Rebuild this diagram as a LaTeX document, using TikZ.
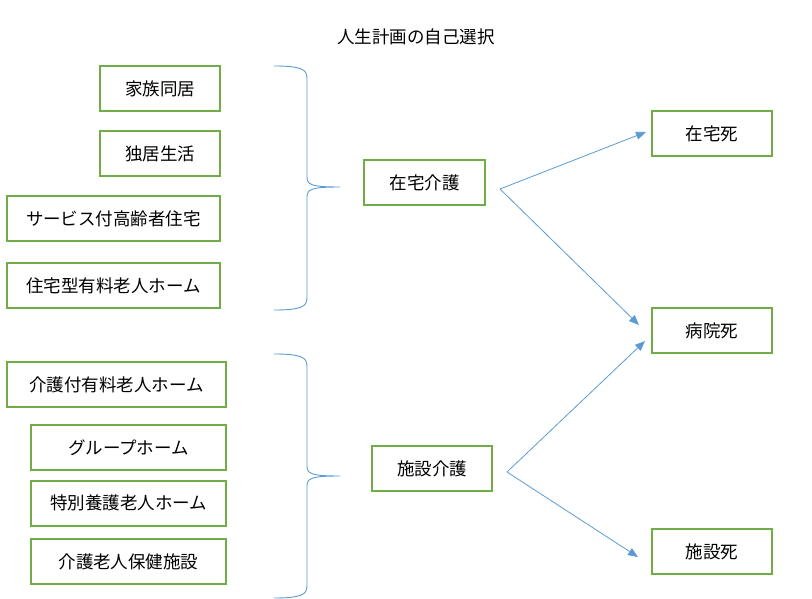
\documentclass[tikz,border=0pt]{standalone}
\usepackage{fontspec}
\newfontfamily\jpfont{Noto Sans CJK JP}
\usetikzlibrary{arrows.meta}
\definecolor{boxgreen}{HTML}{70AD47}
\definecolor{lineblue}{HTML}{5B9BD5}
\tikzset{
    stage/.style={draw=boxgreen, line width=2pt, minimum height=45pt, inner sep=0pt},
    flow/.style={draw=lineblue, line width=0.8pt, -{Triangle[length=10pt,width=8pt]}},
    brace/.style={draw=lineblue, line width=0.9pt}
}
\begin{document}
\begin{tikzpicture}[x=1pt, y=-1pt, font=\jpfont\fontsize{17.5}{19}\selectfont]
\useasboundingbox (0,0) rectangle (812,599);
\node (title) at (416,37) {人生計画の自己選択};
% left side: where one lives
\node[stage, minimum width=120pt] (kazoku) at (160,88.5) {家族同居};
\node[stage, minimum width=120pt] (dokkyo) at (160,153.5) {独居生活};
\node[stage, minimum width=213pt] (sakoju) at (113.5,218.5) {サービス付高齢者住宅};
\node[stage, minimum width=213pt] (jutakugata) at (113.5,285.5) {住宅型有料老人ホーム};
\node[stage, minimum width=219pt] (kaigotsuki) at (116.5,384.5) {介護付有料老人ホーム};
\node[stage, minimum width=195pt] (grouphome) at (128.5,447.5) {グループホーム};
\node[stage, minimum width=195pt] (tokuyo) at (128.5,503) {特別養護老人ホーム};
\node[stage, minimum width=195pt] (roken) at (128.5,561.5) {介護老人保健施設};
% braces
\foreach \top/\mid/\bot in {66/187/310, 354/476/598} {
    \draw[brace] (274,\top) .. controls (300,\top) and (307,\top+3) .. (307,\top+12)
        -- (307,\mid-10) .. controls (307,\mid-2) and (312,\mid) .. (340,\mid)
        (340,\mid) .. controls (312,\mid) and (307,\mid+2) .. (307,\mid+10)
        -- (307,\bot-12) .. controls (307,\bot-3) and (300,\bot) .. (274,\bot);
}
% middle: kind of care
\node[stage, minimum width=121pt] (zaitaku) at (424.5,182.5) {在宅介護};
\node[stage, minimum width=120pt] (shisetsu) at (432,468.5) {施設介護};
% right: where one dies
\node[stage, minimum width=120pt] (zaitakushi) at (712,133.5) {在宅死};
\node[stage, minimum width=120pt] (byoinshi) at (712,330.5) {病院死};
\node[stage, minimum width=120pt] (shisetsushi) at (712,551.5) {施設死};
\coordinate (zaitaku-out) at ([shift={(14,6.5)}]zaitaku.east);
\coordinate (shisetsu-out) at ([shift={(14,3.5)}]shisetsu.east);
\draw[flow] (zaitaku-out) -- ([shift={(-5,-1.5)}]zaitakushi.west);
\draw[flow] (zaitaku-out) -- ([shift={(-12,-5.5)}]byoinshi.west);
\draw[flow] (shisetsu-out) -- ([shift={(-6,10.5)}]byoinshi.west);
\draw[flow] (shisetsu-out) -- ([shift={(-13,5.5)}]shisetsushi.west);
\end{tikzpicture}
\end{document}
